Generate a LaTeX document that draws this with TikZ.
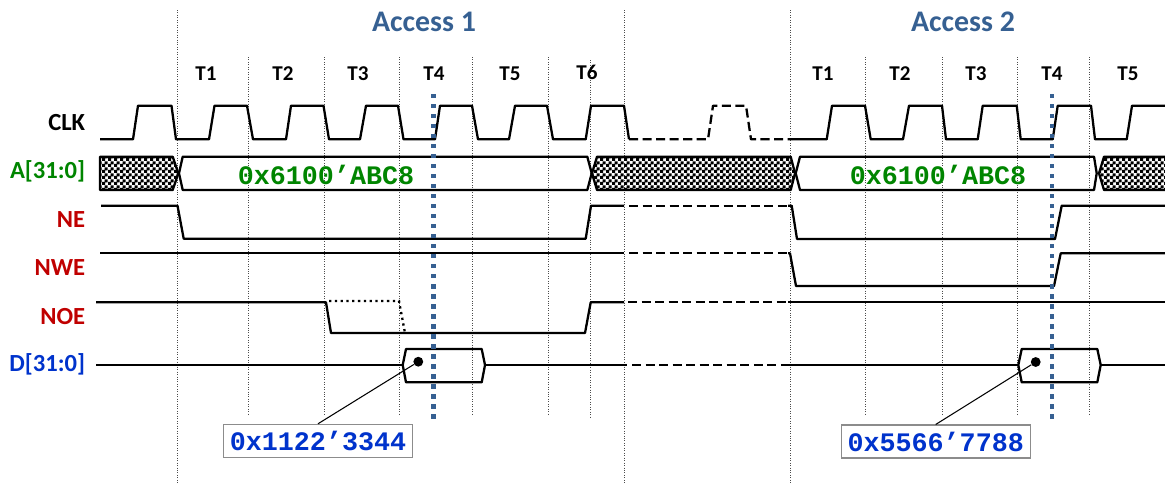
\documentclass[tikz,border=0pt]{standalone}
\usepackage{fontspec}
\setmainfont{Carlito}
\newfontfamily\codefont{Liberation Mono}
\usetikzlibrary{patterns,positioning}
\definecolor{accblue}{RGB}{54,96,146}
\definecolor{addrgreen}{RGB}{0,133,0}
\definecolor{ctrlred}{RGB}{192,0,0}
\definecolor{datablue}{RGB}{0,51,204}
\pgfdeclarepatternformonly{chk}{\pgfqpoint{0pt}{0pt}}{\pgfqpoint{3.415pt}{3.415pt}}{\pgfqpoint{3.415pt}{3.415pt}}{
  \pgfpathrectangle{\pgfqpoint{0pt}{0pt}}{\pgfqpoint{2pt}{2pt}}
  \pgfpathrectangle{\pgfqpoint{1.7075pt}{1.7075pt}}{\pgfqpoint{2pt}{2pt}}
  \pgfusepath{fill}
}
\tikzset{
  sig/.style={line width=1.3pt,black,line join=round},
  sigdash/.style={sig,dash pattern=on 5.2pt off 2.5pt},
  grid/.style={line width=0.4pt,black!70,densely dotted},
  marker/.style={line width=2.3pt,accblue,dash pattern=on 2.4pt off 3.3pt},
  hatch/.style={sig,pattern=chk,pattern color=black},
  siglbl/.style={font=\bfseries\fontsize{14}{14}\selectfont,anchor=base east,inner sep=0pt},
  cyc/.style={font=\bfseries\fontsize{12}{12}\selectfont,anchor=base},
  acc/.style={font=\bfseries\fontsize{17}{17}\selectfont,accblue,anchor=base},
  addr/.style={font=\codefont\bfseries\fontsize{15.2}{15}\selectfont,addrgreen,anchor=base},
  valbox/.style={draw=black!45,line width=0.6pt,fill=white,text=datablue,minimum width=189*0.5693pt,minimum height=33*0.5693pt,inner sep=0pt,font=\codefont\bfseries\fontsize{15.2}{15}\selectfont},
  valdot/.style={circle,fill=black,inner sep=0pt,minimum size=5.6pt}
}
\begin{document}
\begin{tikzpicture}[x=0.02cm,y=-0.02cm]
  \useasboundingbox (0,0) rectangle (1165,484);
  % cycle boundaries
  \foreach \x in {177,624,790} \draw[grid] (\x,10)--(\x,484);
  \foreach \x in {248,324,399,472,548,865,942,1017,1089} \draw[grid] (\x,57)--(\x,414);
  \draw[grid] (590.5,60)--(590.5,417);
  % titles and cycles
  \node[acc] (acc1) at (424,31) {Access 1};
  \node[acc] (acc2) at (963,31) {Access 2};
  \foreach \x/\n in {206/T1,283/T2,358/T3,434/T4,510/T5} \node[cyc] (a\n) at (\x,80.7) {\n};
  \node[cyc] (aT6) at (587,79.3) {T6};
  \foreach \x/\n in {823/T1,900/T2,976/T3,1052/T4,1128/T5} \node[cyc] (b\n) at (\x,80.7) {\n};
  % signal names
  \node[siglbl] (lclk) at (85.5,130) {CLK};
  \node[siglbl,addrgreen] (laddr) at (85.5,178) {A[31:0]};
  \node[siglbl,ctrlred] (lne) at (85.5,227) {NE};
  \node[siglbl,ctrlred] (lnwe) at (85.5,275) {NWE};
  \node[siglbl,ctrlred] (lnoe) at (85.5,324) {NOE};
  \node[siglbl,datablue] (ldata) at (85.5,371.7) {D[31:0]};
  % CLK
  \draw[sig] (100,139.3)--(133,139.3)--(138,105.7)--(171.5,105.7)--(176,139.3)--(209,139.3)--(214.5,105.7)--(247,105.7)--(253,139.3)--(286,139.3)--(291,105.7)--(323.5,105.7)--(329,139.3)--(360,139.3)--(366,105.7)--(398,105.7)--(403.5,139.3)--(435,139.3)--(440,105.7)--(472,105.7)--(478,139.3)--(509,139.3)--(515,105.7)--(547,105.7)--(553,139.3)--(585.7,139.3)--(591,105.7)--(624,105.7)--(629,139.3);
  \draw[sigdash] (629,139.3)--(708,139.3)--(713,105.7)--(746,105.7)--(751,139.3)--(792,139.3);
  \draw[sig] (792,139.3)--(826.7,139.3)--(832,105.7)--(865,105.7)--(870.7,139.3)--(903,139.3)--(909,105.7)--(942,105.7)--(946,139.3)--(977.7,139.3)--(982.7,105.7)--(1016.7,105.7)--(1020.7,139.3)--(1052.7,139.3)--(1057.7,105.7)--(1091,105.7)--(1095,139.3)--(1126.7,139.3)--(1132,105.7)--(1165,105.7);
  % A[31:0]
  \draw[hatch] (100,156.7)--(172.7,156.7)--(178.3,173.3)--(172.7,190)--(100,190)--cycle;
  \draw[sig] (182.7,156.7)--(587.3,156.7)--(591.7,173.3)--(587.3,190)--(182.7,190)--(179,173.3)--cycle;
  \draw[hatch] (597,156.7)--(790.7,156.7)--(795,173.3)--(790.7,190)--(597,190)--(592,173.3)--cycle;
  \draw[sig] (800,156.7)--(1094,156.7)--(1096.7,173.3)--(1094,190)--(800,190)--(795.7,173.3)--cycle;
  \draw[hatch] (1166,156.7)--(1104,156.7)--(1099,173.3)--(1104,190)--(1166,190);
  \node[addr] (addr1) at (326,184) {0x6100’ABC8};
  \node[addr] (addr2) at (938,184) {0x6100’ABC8};
  % NE
  \draw[sig] (101,205.7)--(177.5,205.7)--(183.7,238.7)--(585.7,238.7)--(591,205.7)--(624,205.7);
  \draw[sigdash] (629,205.7)--(788,205.7);
  \draw[sig] (788,205.7)--(791.7,205.7)--(797,239)--(1055,239)--(1061.7,205.7)--(1165,205.7);
  % NWE
  \draw[sig] (100,253.3)--(624,253.3);
  \draw[sigdash] (629,253.3)--(788,253.3);
  \draw[sig] (788,253.3)--(790,253.3)--(796,286)--(1054,286)--(1060.7,253.3)--(1165,253.3);
  % NOE
  \draw[sig] (96,302.3)--(326,302.3)--(331,333)--(585,333)--(590.7,302.3)--(624,302.3);
  \draw[sigdash] (628,302.3)--(788,302.3);
  \draw[sig] (788,302.3)--(1165,302.3);
  \draw[line width=1.3pt,dotted] (329,301)--(399,301)--(405,333);
  % D[31:0]
  \draw[sig] (96,365)--(402.7,365);
  \draw[sig] (406,349)--(481.7,349)--(485,365)--(481.7,382.3)--(406,382.3)--(402.7,365)--cycle;
  \draw[sig] (485,365)--(626.7,365);
  \draw[sigdash] (632,365)--(788,365);
  \draw[sig] (788,365)--(1018.3,365);
  \draw[sig] (1021.7,349)--(1097.3,349)--(1100.7,365)--(1097.3,382.3)--(1021.7,382.3)--(1018.3,365)--cycle;
  \draw[sig] (1100.7,365)--(1165,365);
  % sampling instants
  \draw[marker] (433.5,94)--(433.5,422);
  \draw[marker] (1052.3,94)--(1052.3,422);
  % read values
  \node[valbox] (val1) at (318,440.8) {0x1122’3344};
  \node[valbox] (val2) at (935.7,441.5) {0x5566’7788};
  \node[valdot] (dot1) at (418.3,361.7) {};
  \node[valdot] (dot2) at (1035.7,362) {};
  \draw[line width=0.6pt] (dot1)--(val1.north);
  \draw[line width=0.6pt] (dot2)--(val2.north);
\end{tikzpicture}
\end{document}
